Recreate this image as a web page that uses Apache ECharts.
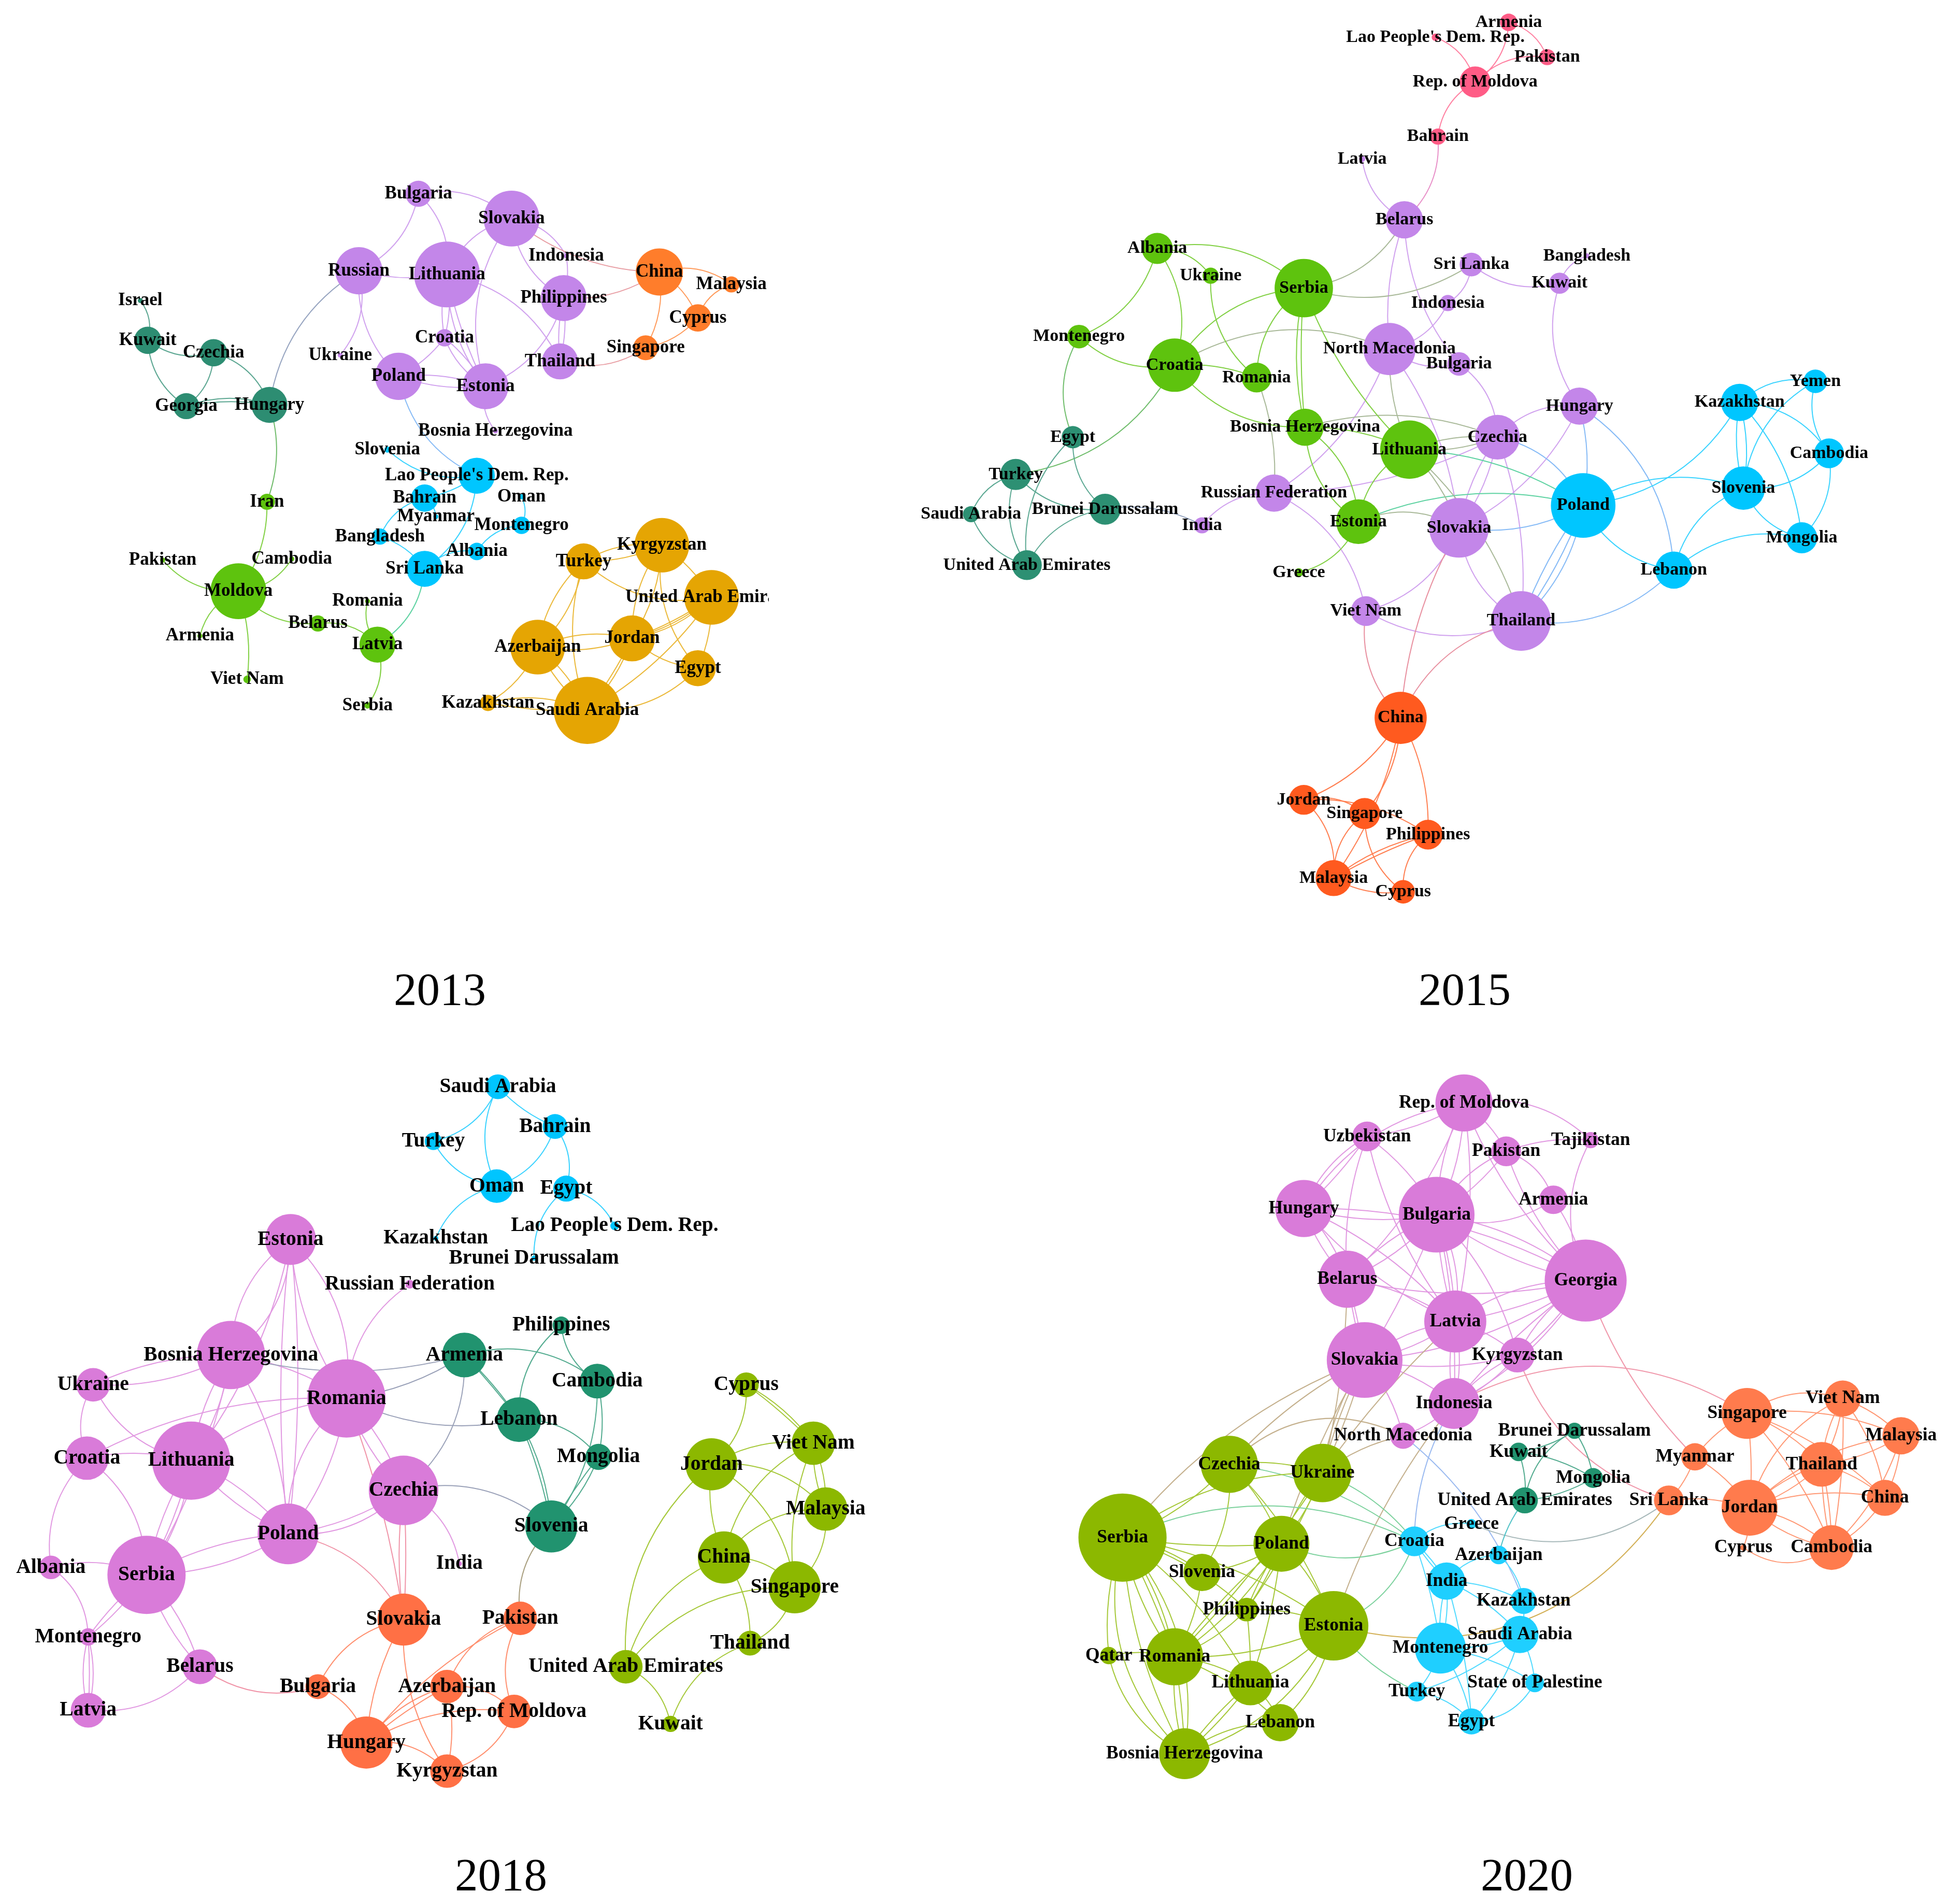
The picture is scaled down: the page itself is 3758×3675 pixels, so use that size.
<!DOCTYPE html>
<html>
<head>
<meta charset="utf-8">
<title>Networks 2013-2020</title>
<script src="https://cdn.jsdelivr.net/npm/echarts@6/dist/echarts.min.js"></script>
<style>
html, body { margin: 0; padding: 0; background: #fff; }
#chart { width: 3758px; height: 3675px; }
</style>
</head>
<body>
<div id="chart"></div>
<script>
// colours of the communities, one list per year
var colors2013 = ['#c386e9', '#ff7d2b', '#2d8d72', '#5ec30e', '#00c6ff', '#e5a503'];
var colors2015 = ['#c386e9', '#ff5c86', '#5ec30e', '#2d9073', '#00c6ff', '#ff5a1f'];
var colors2018 = ['#d97bd9', '#00c5ff', '#21936f', '#ff7045', '#8cb800'];
var colors2020 = ['#d97bd9', '#8cb800', '#1fcfff', '#21936f', '#ff7b4d'];

var years = ['2013', '2015', '2018', '2020'];

// 2013
var names2013 = ['Bulgaria','Slovakia','Lithuania','Russian','Philippines','Indonesia','Thailand','Croatia','Ukraine','Poland','Estonia','Bosnia Herzegovina',
  'China','Malaysia','Cyprus','Singapore',
  'Israel','Kuwait','Czechia','Georgia','Hungary',
  'Iran','Pakistan','Cambodia','Moldova','Armenia','Viet Nam','Belarus','Romania','Latvia','Serbia',
  'Slovenia',"Lao People's Dem. Rep.",'Bahrain','Myanmar','Oman','Montenegro','Bangladesh','Albania','Sri Lanka',
  'Turkey','Kyrgyzstan','United Arab Emirates','Jordan','Azerbaijan','Egypt','Kazakhstan','Saudi Arabia'];
var x2013 = [337,412,360,289,454,456,451,358,274,321,391,399,
  531,589,562,520,
  113,119,172,150,217,
  215,131,235,192,161,199,256,296,304,296,
  312,384,342,351,420,420,306,384,342,
  470,533,573,509,433,562,393,473];
var y2013 = [156,176,221,218,240,206,291,272,286,303,311,347,
  219,229,256,280,
  242,274,284,327,326,
  404,451,450,476,512,547,502,484,519,568,
  362,383,401,416,400,423,432,444,458,
  452,439,481,514,521,538,566,572];
var value2013 = [21,45,53,38,37,4,29,14,4,38,37,4,
  38,13,22,20,
  4,22,22,21,29,
  13,4,4,45,4,6,13,4,29,5,
  5,29,22,4,4,14,13,14,29,
  29,44,44,37,44,29,13,54];
var group2013 = [0,0,0,0,0,0,0,0,0,0,0,0, 1,1,1,1, 2,2,2,2,2, 3,3,3,3,3,3,3,3,3,3, 4,4,4,4,4,4,4,4,4, 5,5,5,5,5,5,5,5];
var links2013 = ['Bulgaria|Slovakia','Bulgaria|Lithuania','Bulgaria|Russian','Lithuania|Slovakia','Philippines|Slovakia','Estonia|Slovakia','Slovakia|Indonesia','Indonesia|Philippines|.1',
  'Lithuania|Russian|.1','Lithuania|Thailand','Estonia|Lithuania|.15','Estonia|Lithuania|.06','Lithuania|Croatia|.1','Croatia|Lithuania|.1','Poland|Russian|.2','Russian|Ukraine','Croatia|Poland|.1','Estonia|Croatia|.15','Croatia|Estonia|.08',
  'Philippines|Thailand|.08','Thailand|Philippines|.08','Philippines|Estonia','Poland|Estonia|.1','Estonia|Poland|.1','Bosnia Herzegovina|Estonia',
  'China|Slovakia|.15','China|Philippines|.15','Singapore|Thailand|.2','China|Malaysia','China|Cyprus|.15','Cyprus|Malaysia','China|Singapore|.15','Cyprus|Singapore|.15',
  'Hungary|Russian|.2','Israel|Kuwait','Czechia|Kuwait','Georgia|Kuwait','Czechia|Georgia','Czechia|Hungary','Georgia|Hungary|.15','Georgia|Hungary|.08','Hungary|Iran|.15','Iran|Moldova|.15',
  'Moldova|Pakistan','Cambodia|Moldova','Armenia|Moldova','Moldova|Viet Nam|.1','Belarus|Moldova','Belarus|Latvia','Latvia|Romania','Latvia|Serbia','Sri Lanka|Latvia',
  "Lao People's Dem. Rep.|Poland","Lao People's Dem. Rep.|Slovenia","Lao People's Dem. Rep.|Bahrain|.1",'Bahrain|Myanmar',"Lao People's Dem. Rep.|Sri Lanka",'Bangladesh|Bahrain','Bangladesh|Sri Lanka|.15','Sri Lanka|Albania','Albania|Montenegro','Oman|Montenegro',
  'Turkey|Kyrgyzstan|.15','Kyrgyzstan|Turkey|.1','United Arab Emirates|Turkey','Azerbaijan|Turkey|.15','Turkey|Azerbaijan|.15','Saudi Arabia|Turkey|.15','Kyrgyzstan|United Arab Emirates|.1','Jordan|Kyrgyzstan|.15','Egypt|Kyrgyzstan|.2','Kyrgyzstan|Jordan|.12',
  'United Arab Emirates|Jordan|.1','United Arab Emirates|Jordan|.14','United Arab Emirates|Jordan|.06','United Arab Emirates|Egypt|.1','United Arab Emirates|Saudi Arabia|.1','Azerbaijan|Jordan|.15','Jordan|Azerbaijan|.12','Egypt|Jordan|.15','Jordan|Saudi Arabia|.1','Jordan|Saudi Arabia|.04','Azerbaijan|Saudi Arabia|.1','Saudi Arabia|Azerbaijan|.1',
  'Azerbaijan|Kazakhstan|.15','Kazakhstan|Saudi Arabia|.15','Saudi Arabia|Kazakhstan|.05','Egypt|Saudi Arabia|.2'];

// 2015
var names2015 = ['Latvia','Belarus','Sri Lanka','Bangladesh','Kuwait','Indonesia','North Macedonia','Bulgaria','Hungary','Czechia','Russian Federation','India','Slovakia','Viet Nam','Thailand',
  'Armenia',"Lao People's Dem. Rep.",'Pakistan','Rep. of Moldova','Bahrain',
  'Albania','Ukraine','Serbia','Montenegro','Croatia','Romania','Bosnia Herzegovina','Lithuania','Estonia','Greece',
  'Egypt','Turkey','Saudi Arabia','Brunei Darussalam','United Arab Emirates',
  'Kazakhstan','Yemen','Cambodia','Poland','Slovenia','Mongolia','Lebanon',
  'China','Jordan','Singapore','Philippines','Malaysia','Cyprus'];
var x2015 = [1097,1131,1185,1278,1256,1166,1119,1175,1272,1206,1026,968,1175,1100,1225,
  1215,1156,1246,1188,1158,
  932,975,1050,869,946,1012,1051,1135,1094,1046,
  864,818,782,890,827,
  1401,1462,1473,1275,1404,1451,1348,
  1128,1050,1099,1150,1074,1130];
var y2015 = [128,177,213,206,228,244,281,293,327,352,397,423,425,492,500,
  18,30,46,66,110,
  200,222,232,271,294,304,344,362,420,461,
  352,382,414,410,455,
  324,307,365,407,393,433,459,
  578,644,655,672,707,718];
var value2015 = [5,30,19,4,17,13,42,19,30,36,30,13,48,24,48,
  14,6,13,25,13,
  25,13,47,19,43,24,30,47,36,7,
  18,25,13,25,24,
  30,19,24,52,35,25,30,
  42,24,25,24,29,19];
var group2015 = [0,0,0,0,0,0,0,0,0,0,0,0,0,0,0, 1,1,1,1,1, 2,2,2,2,2,2,2,2,2,2, 3,3,3,3,3, 4,4,4,4,4,4,4, 5,5,5,5,5,5];
var links2015 = ["Lao People's Dem. Rep.|Rep. of Moldova",'Armenia|Rep. of Moldova','Armenia|Pakistan','Rep. of Moldova|Pakistan','Bahrain|Rep. of Moldova','Bahrain|Belarus',
  'Belarus|Latvia','North Macedonia|Belarus|.1','Bulgaria|Belarus|.15','Belarus|Serbia','Sri Lanka|Serbia|.2','Kuwait|Sri Lanka','Sri Lanka|Indonesia','Kuwait|Bangladesh','Hungary|Kuwait','Indonesia|North Macedonia','Bulgaria|North Macedonia',
  'Croatia|North Macedonia','Lithuania|North Macedonia|.1','North Macedonia|Russian Federation|.15','North Macedonia|Slovakia|.12','Bulgaria|Czechia','Czechia|Hungary','Hungary|Poland|.1','Hungary|Lebanon','Hungary|Slovakia|.15',
  'Czechia|Poland','Lithuania|Czechia|.1','Czechia|Lithuania|.1','Czechia|Slovakia|.1','Slovakia|Czechia|.1','Czechia|Thailand|.1','Czechia|Russian Federation|.1','Bosnia Herzegovina|Czechia|.15','Estonia|Poland|.15','Lithuania|Poland|.12',
  'Poland|Slovakia|.15','Poland|Thailand|.15','Poland|Thailand|.06','Thailand|Poland|.06','Lebanon|Poland','Kazakhstan|Poland','Poland|Slovenia|.2','India|Russian Federation','Russian Federation|Viet Nam',
  'Slovakia|Viet Nam','Thailand|Viet Nam','Lithuania|Slovakia|.1','Lithuania|Thailand|.12','Estonia|Slovakia','Thailand|Slovakia','Lebanon|Thailand','Lebanon|Slovenia','Lebanon|Mongolia',
  'Kazakhstan|Slovenia|.1','Slovenia|Kazakhstan|.1','Kazakhstan|Yemen','Kazakhstan|Cambodia','Kazakhstan|Mongolia|.15','Cambodia|Yemen','Slovenia|Yemen','Cambodia|Slovenia','Cambodia|Mongolia','Mongolia|Slovenia',
  'Albania|Serbia','Albania|Ukraine','Albania|Croatia','Albania|Montenegro','Romania|Ukraine','Croatia|Serbia','Romania|Serbia','Bosnia Herzegovina|Serbia|.1','Bosnia Herzegovina|Serbia|.04','Lithuania|Serbia|.1',
  'Croatia|Montenegro','Egypt|Montenegro','Croatia|Romania|.1','Bosnia Herzegovina|Croatia','Croatia|Turkey','Romania|Russian Federation|.1','Bosnia Herzegovina|Lithuania|.1','Bosnia Herzegovina|Estonia','Estonia|Bosnia Herzegovina','Estonia|Lithuania','Estonia|Greece',
  'United Arab Emirates|Egypt','Brunei Darussalam|Egypt','Saudi Arabia|Turkey','United Arab Emirates|Turkey','Brunei Darussalam|Turkey','United Arab Emirates|Saudi Arabia','United Arab Emirates|Brunei Darussalam','Brunei Darussalam|India|.15',
  'China|Viet Nam','China|Slovakia|.1','China|Thailand','China|Jordan|.15','China|Singapore|.15','China|Philippines|.12','China|Malaysia|.1','Jordan|Singapore','Jordan|Philippines|.15','Jordan|Malaysia',
  'Malaysia|Singapore','Cyprus|Singapore','Malaysia|Philippines|.1','Malaysia|Philippines|.04','Cyprus|Philippines','Cyprus|Malaysia|.15'];

// 2018
var names2018 = ['Estonia','Russian Federation','Bosnia Herzegovina','Ukraine','Romania','Croatia','Lithuania','Czechia','Poland','India','Albania','Serbia','Montenegro','Belarus','Latvia',
  'Saudi Arabia','Turkey','Bahrain','Oman','Egypt',"Lao People's Dem. Rep.",'Kazakhstan','Brunei Darussalam',
  'Philippines','Armenia','Cambodia','Lebanon','Mongolia','Slovenia',
  'Slovakia','Pakistan','Bulgaria','Azerbaijan','Rep. of Moldova','Hungary','Kyrgyzstan',
  'Cyprus','Viet Nam','Jordan','Malaysia','China','Singapore','Thailand','United Arab Emirates','Kuwait'];
var x2018 = [234,330,186,75,279,70,154,325,232,370,41,118,71,161,71,
  401,349,447,400,456,495,351,430,
  452,374,481,418,482,444,
  325,419,256,360,414,295,360,
  601,655,573,665,583,640,604,504,540];
var y2018 = [998,1034,1091,1115,1126,1174,1176,1200,1235,1259,1262,1268,1318,1342,1377,
  875,919,907,955,957,987,997,1013,
  1067,1091,1112,1143,1173,1229,
  1304,1303,1358,1358,1378,1403,1426,
  1115,1162,1179,1215,1254,1278,1323,1342,1388];
var value2018 = [41,7,55,27,63,35,63,56,49,4,19,63,14,28,28,
  20,14,20,27,21,7,4,4,
  14,36,28,36,21,42,
  42,27,20,27,27,42,27,
  20,35,42,35,42,42,20,27,13];
var group2018 = [0,0,0,0,0,0,0,0,0,0,0,0,0,0,0, 1,1,1,1,1,1,1,1, 2,2,2,2,2,2, 3,3,3,3,3,3,3, 4,4,4,4,4,4,4,4,4];
var links2018 = ['Saudi Arabia|Turkey','Oman|Saudi Arabia','Bahrain|Saudi Arabia|.1','Oman|Turkey','Bahrain|Oman','Bahrain|Egypt','Kazakhstan|Oman',"Egypt|Lao People's Dem. Rep.",'Brunei Darussalam|Egypt',
  'Bosnia Herzegovina|Estonia','Estonia|Bosnia Herzegovina','Estonia|Romania','Romania|Estonia|.12','Estonia|Poland|.05','Poland|Estonia|.05','Estonia|Lithuania|.1','Romania|Russian Federation',
  'Ukraine|Bosnia Herzegovina|.1','Bosnia Herzegovina|Ukraine|.12','Bosnia Herzegovina|Romania|.1','Bosnia Herzegovina|Poland|.12','Bosnia Herzegovina|Lithuania|.1','Lithuania|Bosnia Herzegovina|.1','Bosnia Herzegovina|Serbia|.08',
  'Armenia|Bosnia Herzegovina|.12','Armenia|Romania|.1','Lebanon|Romania|.15','Armenia|Czechia','Czechia|Slovenia','Croatia|Ukraine','Lithuania|Ukraine','Croatia|Lithuania|.1','Croatia|Romania|.12','Croatia|Serbia','Albania|Croatia',
  'Lithuania|Romania|.12','Poland|Romania','Romania|Poland|.12','Romania|Czechia|.1','Czechia|Romania|.1','Romania|Slovakia|.05','Lithuania|Poland|.1','Poland|Lithuania|.1',
  'Serbia|Lithuania|.08','Lithuania|Serbia|.06','Lithuania|Serbia|.12','Czechia|Poland|.1','Czechia|Poland|.2','Czechia|India','Serbia|Poland|.1','Poland|Serbia|.12','Poland|Slovakia','Albania|Serbia|.15','Albania|Montenegro',
  'Serbia|Montenegro|.06','Montenegro|Serbia|.06','Serbia|Belarus|.1','Belarus|Serbia|.1','Montenegro|Latvia|.12','Montenegro|Latvia|.03','Latvia|Montenegro|.12','Belarus|Latvia','Bulgaria|Belarus','Czechia|Slovakia|.03','Slovakia|Czechia|.06',
  'Armenia|Lebanon|.05','Armenia|Lebanon|.02','Armenia|Cambodia','Lebanon|Philippines','Cambodia|Philippines','Cambodia|Mongolia|.1','Cambodia|Slovenia|.15','Lebanon|Mongolia','Lebanon|Slovenia|.1','Lebanon|Slovenia|.05','Mongolia|Slovenia|.1','Slovenia|Mongolia|.03','Pakistan|Slovenia',
  'Bulgaria|Slovakia','Hungary|Slovakia|.1','Kyrgyzstan|Slovakia|.15','Bulgaria|Hungary','Hungary|Pakistan|.1','Azerbaijan|Pakistan','Rep. of Moldova|Pakistan','Azerbaijan|Rep. of Moldova','Hungary|Azerbaijan|.15','Hungary|Azerbaijan|.05','Hungary|Rep. of Moldova|.15','Hungary|Kyrgyzstan','Azerbaijan|Kyrgyzstan|.1','Rep. of Moldova|Kyrgyzstan',
  'Cyprus|Viet Nam|.1','Cyprus|Viet Nam|.04','Cyprus|Jordan','Jordan|Viet Nam|.15','Viet Nam|Malaysia|.1','Malaysia|Viet Nam|.1','China|Viet Nam','Singapore|Viet Nam|.12','Jordan|Malaysia','China|Jordan|.12','Jordan|Singapore','United Arab Emirates|Jordan',
  'China|Malaysia','Malaysia|Singapore','China|Singapore','China|Thailand|.15','United Arab Emirates|China','Singapore|Thailand','United Arab Emirates|Singapore','Kuwait|Thailand','United Arab Emirates|Kuwait'];

// 2020
var names2020 = ['Rep. of Moldova','Uzbekistan','Tajikistan','Pakistan','Armenia','Hungary','Bulgaria','Belarus','Georgia','Latvia','Slovakia','Kyrgyzstan','Indonesia','North Macedonia',
  'Czechia','Ukraine','Serbia','Poland','Slovenia','Philippines','Estonia','Qatar','Romania','Lithuania','Lebanon','Bosnia Herzegovina',
  'Croatia','Greece','Azerbaijan','India','Kazakhstan','Saudi Arabia','Montenegro','State of Palestine','Turkey','Egypt',
  'Brunei Darussalam','Kuwait','Mongolia','United Arab Emirates',
  'Singapore','Viet Nam','Malaysia','Myanmar','Thailand','Sri Lanka','China','Jordan','Cyprus','Cambodia'];
var x2020 = [1179,1101,1281,1213,1251,1050,1157,1085,1277,1172,1099,1222,1171,1130,
  990,1065,904,1032,968,1004,1074,893,946,1007,1031,954,
  1139,1185,1207,1165,1227,1224,1160,1236,1141,1185,
  1268,1223,1283,1228,
  1407,1484,1531,1365,1467,1344,1518,1409,1404,1475];
var y2020 = [888,915,918,927,966,973,978,1030,1031,1064,1095,1091,1130,1156,
  1179,1186,1238,1243,1266,1296,1309,1333,1334,1355,1387,1412,
  1241,1227,1252,1273,1289,1316,1327,1355,1362,1386,
  1152,1169,1190,1208,
  1138,1126,1156,1173,1179,1208,1206,1214,1246,1246];
var value2020 = [46,24,13,24,23,46,61,46,66,50,61,28,41,21,
  46,47,71,45,30,19,56,14,46,36,30,41,
  24,8,15,30,21,30,41,15,16,21,
  13,15,16,21,
  41,29,30,22,36,24,29,45,5,36];
var group2020 = [0,0,0,0,0,0,0,0,0,0,0,0,0,0, 1,1,1,1,1,1,1,1,1,1,1,1, 2,2,2,2,2,2,2,2,2,2, 3,3,3,3, 4,4,4,4,4,4,4,4,4,4];
var links2020 = ['Rep. of Moldova|Uzbekistan|.1','Bulgaria|Rep. of Moldova|.1','Rep. of Moldova|Bulgaria|.1','Rep. of Moldova|Belarus|.1','Rep. of Moldova|Tajikistan','Georgia|Rep. of Moldova|.1','Rep. of Moldova|Pakistan|.1','Rep. of Moldova|Latvia|.08','Hungary|Rep. of Moldova|.2',
  'Uzbekistan|Bulgaria|.1','Latvia|Uzbekistan|.1','Belarus|Uzbekistan|.1','Hungary|Uzbekistan|.15','Uzbekistan|Hungary|.05','Pakistan|Bulgaria|.08','Bulgaria|Pakistan|.15','Pakistan|Armenia','Georgia|Pakistan|.1','Pakistan|Tajikistan|.1','Georgia|Tajikistan','Armenia|Bulgaria','Armenia|Georgia|.1',
  'Bulgaria|Hungary|.1','Hungary|Belarus|.1','Belarus|Hungary|.1','Hungary|Latvia|.1','Latvia|Hungary|.1','Hungary|Georgia|.12','Bulgaria|Belarus|.1','Belarus|Bulgaria|.1','Bulgaria|Georgia|.12','Georgia|Bulgaria|.1',
  'Bulgaria|Latvia|.06','Latvia|Bulgaria|.06','Bulgaria|Latvia|.15','Bulgaria|Slovakia|.05','Bulgaria|Kyrgyzstan|.12','Bulgaria|Indonesia|.06','Georgia|Belarus|.1','Belarus|Latvia|.1','Latvia|Georgia|.15','Georgia|Latvia|.06','Kyrgyzstan|Georgia|.12','Georgia|Kyrgyzstan|.06','Georgia|Slovakia|.12','Georgia|Indonesia|.12','Indonesia|Georgia|.06',
  'Latvia|Slovakia|.1','Slovakia|Latvia|.12','Latvia|Kyrgyzstan|.1','Latvia|Indonesia|.1','Indonesia|Latvia|.1','Kyrgyzstan|Slovakia|.1','Slovakia|Indonesia|.1','Slovakia|North Macedonia|.1','Kyrgyzstan|Indonesia|.1','Indonesia|Kyrgyzstan|.1','Indonesia|North Macedonia|.1',
  'Belarus|Ukraine|.05','Belarus|Slovakia|.03','Slovakia|Belarus|.03','Serbia|Slovakia|.12','Czechia|Slovakia|.08','Ukraine|Slovakia|.05','Slovakia|Ukraine|.04','Ukraine|Slovakia|.1','Poland|Slovakia|.05','Czechia|North Macedonia|.3','Ukraine|North Macedonia|.1','Ukraine|Latvia|.05','Estonia|Indonesia|.08',
  'North Macedonia|Kazakhstan|.12','Croatia|Indonesia|.12','Sri Lanka|Kyrgyzstan','Myanmar|Georgia|.1','Indonesia|Singapore|.25','Sri Lanka|Greece|.25','Sri Lanka|Estonia|.3',
  'Brunei Darussalam|Kuwait|.1','Brunei Darussalam|Mongolia|.1','United Arab Emirates|Brunei Darussalam','Kuwait|Mongolia|.1','Kuwait|United Arab Emirates|.1','Mongolia|United Arab Emirates|.1','Azerbaijan|United Arab Emirates|.1',
  'Singapore|Viet Nam','Myanmar|Singapore|.1','Singapore|Thailand|.1','Singapore|Malaysia|.12','Singapore|Jordan|.05','Singapore|China|.1','Singapore|Cambodia|.08','Viet Nam|Malaysia|.1','Viet Nam|Thailand|.1','Thailand|Viet Nam|.1','Jordan|Viet Nam|.2','Viet Nam|China|.12','Viet Nam|Cambodia|.05',
  'Malaysia|Thailand|.1','Jordan|Malaysia|.15','Malaysia|China|.1','Malaysia|Cambodia|.12','Myanmar|Jordan|.1','Myanmar|Sri Lanka|.1','Thailand|Jordan|.1','Jordan|Thailand|.1','Thailand|China|.1','Thailand|Cambodia|.05','Cambodia|Thailand|.05','Sri Lanka|Jordan|.1','Jordan|China|.12','China|Cambodia|.12','Jordan|Cambodia|.12','Cambodia|Jordan|.12','Jordan|Cyprus|.1','Cambodia|Cyprus|.3',
  'Czechia|Ukraine|.1','Czechia|Serbia|.1','Czechia|Poland|.1','Czechia|Slovenia|.15','Czechia|Estonia|.1','Czechia|Croatia|.12','Ukraine|Poland|.08','Poland|Ukraine|.08','Serbia|Ukraine|.15','Ukraine|Croatia|.12','Ukraine|Romania|.05','Ukraine|Philippines|.05',
  'Poland|Serbia|.05','Serbia|Croatia|.2','Serbia|Slovenia|.1','Serbia|Philippines|.1','Serbia|Estonia|.1','Serbia|Romania|.1','Romania|Serbia|.1','Serbia|Romania|.04','Qatar|Serbia|.1','Bosnia Herzegovina|Serbia|.1','Serbia|Bosnia Herzegovina|.2','Bosnia Herzegovina|Serbia|.25','Serbia|Lithuania|.1',
  'Poland|Slovenia|.1','Poland|Philippines|.05','Philippines|Poland|.05','Poland|Estonia|.1','Poland|Romania|.1','Romania|Poland|.05','Poland|Lithuania|.05','Croatia|Poland|.2','Slovenia|Romania|.1','Philippines|Romania|.1','Philippines|Lithuania|.03','Philippines|Estonia|.1',
  'Estonia|Romania|.1','Estonia|Lithuania|.1','Estonia|Lebanon|.15','Estonia|Bosnia Herzegovina|.2','Croatia|Estonia|.2','Turkey|Estonia|.1','Qatar|Romania|.1','Bosnia Herzegovina|Qatar|.2','Romania|Lithuania|.1','Romania|Lebanon|.1','Romania|Bosnia Herzegovina|.03','Bosnia Herzegovina|Romania|.08','Lithuania|Lebanon|.1','Lithuania|Bosnia Herzegovina|.05','Bosnia Herzegovina|Lithuania|.05','Bosnia Herzegovina|Lebanon|.15',
  'Croatia|Greece|.2','Croatia|India|.05','India|Croatia|.05','Croatia|Montenegro|.05','India|Azerbaijan|.2','Azerbaijan|Kazakhstan|.15','India|Kazakhstan|.1','India|Saudi Arabia|.1','India|Montenegro|.08','Montenegro|India|.08','India|Egypt|.05',
  'Kazakhstan|Saudi Arabia|.1','Saudi Arabia|Montenegro|.1','Saudi Arabia|State of Palestine|.1','Saudi Arabia|Egypt|.12','Saudi Arabia|Turkey|.1','Montenegro|Turkey|.1','Montenegro|State of Palestine|.1','Montenegro|Egypt|.1','State of Palestine|Egypt|.25','Turkey|Egypt|.15'];

var pxPerUnit = 3758 / 1568;
var labelFont = { '2013': 35, '2015': 34, '2018': 39.5, '2020': 35.5 };

function hexToRgb(hex) {
  return [parseInt(hex.substr(1, 2), 16), parseInt(hex.substr(3, 2), 16), parseInt(hex.substr(5, 2), 16)];
}
function mix(a, b, t) {
  var ra = hexToRgb(a), rb = hexToRgb(b), out = [];
  for (var i = 0; i < 3; i++) out.push(Math.round(ra[i] * (1 - t) + rb[i] * t));
  return '#' + out.map(function(v) { return ('0' + v.toString(16)).slice(-2); }).join('');
}

function makeSeries(year, names, xs, ys, values, groups, colors, links) {
  var colorOf = {};
  var data = names.map(function(name, i) {
    colorOf[name] = colors[groups[i]];
    return {
      name: name,
      value: [xs[i], ys[i]],
      symbolSize: values[i] * pxPerUnit,
      itemStyle: { color: colors[groups[i]] }
    };
  });
  var edges = links.map(function(str) {
    var p = str.split('|');
    var c = mix(colorOf[p[0]], colorOf[p[1]], 0.5);
    return {
      source: p[0],
      target: p[1],
      lineStyle: { color: mix(c, '#ffffff', 0.22), width: 2, curveness: p[2] ? parseFloat(p[2]) * 1.15 : 0.25 }
    };
  });
  return {
    type: 'graph',
    name: year,
    coordinateSystem: 'cartesian2d',
    layout: 'none',
    silent: true,
    data: data,
    links: edges,
    edgeSymbol: ['none', 'none'],
    label: {
      show: true,
      position: 'inside',
      color: '#000',
      fontFamily: '"Liberation Serif"',
      fontWeight: 'bold',
      fontSize: labelFont[year]
    },
    lineStyle: { opacity: 1 }
  };
}

var myChart = echarts.init(document.getElementById('chart'));
var titlePos = [[848, 1866], [2826, 1866], [966, 3575], [2946, 3575]];
myChart.setOption({
  animation: false,
  backgroundColor: '#fff',
  title: years.map(function(y, i) {
    return {
      text: y,
      left: titlePos[i][0] - 4,
      top: titlePos[i][1],
      textAlign: 'center',
      textStyle: { color: '#000', fontFamily: '"Liberation Serif"', fontWeight: 'normal', fontSize: 89 }
    };
  }),
  grid: { left: 0, right: 0, top: 0, bottom: 0 },
  xAxis: { type: 'value', min: 0, max: 1568, show: false },
  yAxis: { type: 'value', min: 0, max: 1533, inverse: true, show: false },
  // the 2013 panel is cropped on its right side in the source
  graphic: [{ type: 'rect', left: 1484, top: 1120, z: 1000, shape: { width: 120, height: 70 }, style: { fill: '#fff' } }],
  series: [
    makeSeries('2013', names2013, x2013, y2013, value2013, group2013, colors2013, links2013),
    makeSeries('2015', names2015, x2015, y2015, value2015, group2015, colors2015, links2015),
    makeSeries('2018', names2018, x2018, y2018, value2018, group2018, colors2018, links2018),
    makeSeries('2020', names2020, x2020, y2020, value2020, group2020, colors2020, links2020)
  ]
});
</script>
</body>
</html>
